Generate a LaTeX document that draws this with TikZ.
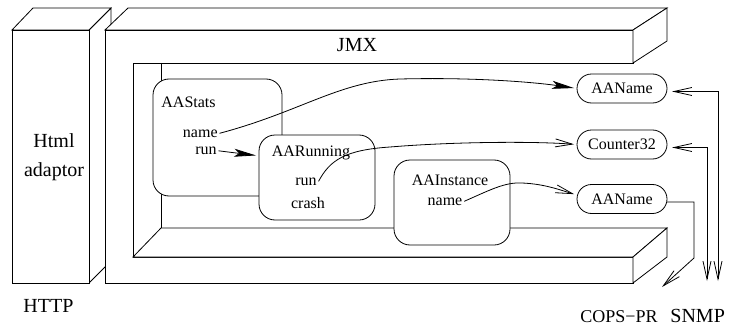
\documentclass[tikz,border=0pt]{standalone}
\usepackage{fontspec}
\setmainfont{Liberation Serif}
\usetikzlibrary{arrows.meta}

\begin{document}
\begin{tikzpicture}[x=1pt, y=-1pt, line width=0.8pt, line join=miter,
  face/.style={draw, fill=white},
  objbox/.style={draw, fill=white, rounded corners=16pt, inner sep=0pt, outer sep=0pt},
  oval/.style={draw, fill=white, rounded corners=14.5pt, minimum width=90pt, minimum height=29pt,
               inner sep=0pt, outer sep=0pt, font=\fontsize{16}{18}\selectfont},
  small/.style={inner sep=1.5pt, font=\fontsize{16}{18}\selectfont},
  big/.style={inner sep=0pt, font=\fontsize{20}{23}\selectfont},
  proto/.style={inner sep=0pt, font=\fontsize{18}{21}\selectfont},
  solidtip/.style={-{Stealth[length=22pt,width=8pt,inset=5pt]}, shorten >=3pt},
  opentip/.style={-{Straight Barb[length=17pt,width=8pt]}, shorten >=3pt},
  bothtips/.style={{Straight Barb[length=18pt,width=8pt]}-{Straight Barb[length=18pt,width=8pt]}}]
\useasboundingbox (0,0) rectangle (733,329);

% Html adaptor block
\draw[face] (89,30) -- (111,8) -- (111,261) -- (89,283) -- cycle;
\draw[face] (12,30) -- (33,8) -- (111,8) -- (89,30) -- cycle;
\draw[face] (12,30) rectangle (89,283);
\node[big, anchor=base] (html) at (54,147) {Html};
\node[big, anchor=base] (adaptor) at (54,176) {adaptor};
\node[big, anchor=base west] (http) at (23,312) {HTTP};

% JMX frame: front face, top bar, bottom bar and the inner cavity
\draw[face] (105,30) -- (633,30) -- (633,63) -- (133,63) -- (133,257) -- (633,257)
  -- (633,283) -- (105,283) -- cycle;
\draw[face] (105,30) -- (128,8) -- (667,8) -- (633,30) -- cycle;
\draw[face] (633,30) -- (667,8) -- (667,41) -- (633,63) -- cycle;
\draw (161,63) -- (161,228);
\draw[face] (133,257) -- (161,228) -- (667,228) -- (633,257) -- cycle;
\draw[face] (633,257) -- (667,228) -- (667,257) -- (633,283) -- cycle;
\node[big, anchor=base] (jmx) at (357,52) {JMX};

% managed objects
\node[objbox, minimum width=129pt, minimum height=117pt] (stats) at (217.5,137.5) {};
\node[objbox, minimum width=116pt, minimum height=85pt] (running) at (317,177.5) {};
\node[objbox, minimum width=116pt, minimum height=85pt] (instance) at (452,202.5) {};

\node[small, anchor=base west] (tstats) at (159.5,107) {AAStats};
\node[small, anchor=base east] (sname) at (219.5,137) {name};
\node[small, anchor=base east] (srun) at (218.5,154.5) {run};
\node[small, anchor=base] (trun) at (311,156) {AARunning};
\node[small, anchor=base] (rrun) at (306,185) {run};
\node[small, anchor=base] (rcrash) at (308,208) {crash};
\node[small, anchor=base] (tinst) at (450,185) {AAInstance};
\node[small, anchor=base] (iname) at (445,205) {name};

% MIB types
\node[oval] (n1) at (622,88.5) {AAName};
\node[oval] (c32) at (622,144.5) {Counter32};
\node[oval] (n2) at (622,199) {AAName};

% attribute mappings
\draw[solidtip] (sname.east) .. controls (300,112) and (340,81) .. (400,79)
  .. controls (480,77) and (540,83) .. (n1.west);
\draw[solidtip] (srun.east) -- ([yshift=-5pt]srun.east -| running.west);
\draw[opentip] (rrun.east) .. controls (330,160) and (345,150) .. (390,147)
  .. controls (450,142) and (530,141) .. (c32.west);
\draw[opentip] (iname.east) .. controls (490,190) and (505,182) .. (522,183)
  .. controls (545,184) and (560,190) .. ([yshift=4pt]n2.west);

% protocol access paths
\coordinate (snmpA) at (718,281);
\coordinate (snmpB) at (707,281);
\coordinate (copsBend) at (694,258);
\coordinate (copsEnd) at (662,287);
\node[proto, anchor=base west] (cops) at (580,322) {COPS−PR};
\node[big, anchor=base west] (snmp) at (670,322) {SNMP};
\draw[bothtips] ([xshift=5pt,yshift=-3pt]n1.east) -| (snmpA);
\draw[bothtips] ([xshift=5pt,yshift=-3pt]c32.east) -| (snmpB);
\draw[-{Straight Barb[length=18pt,width=8pt]}] ([yshift=-3pt]n2.east) -| (copsBend) -- (copsEnd);
\end{tikzpicture}
\end{document}
